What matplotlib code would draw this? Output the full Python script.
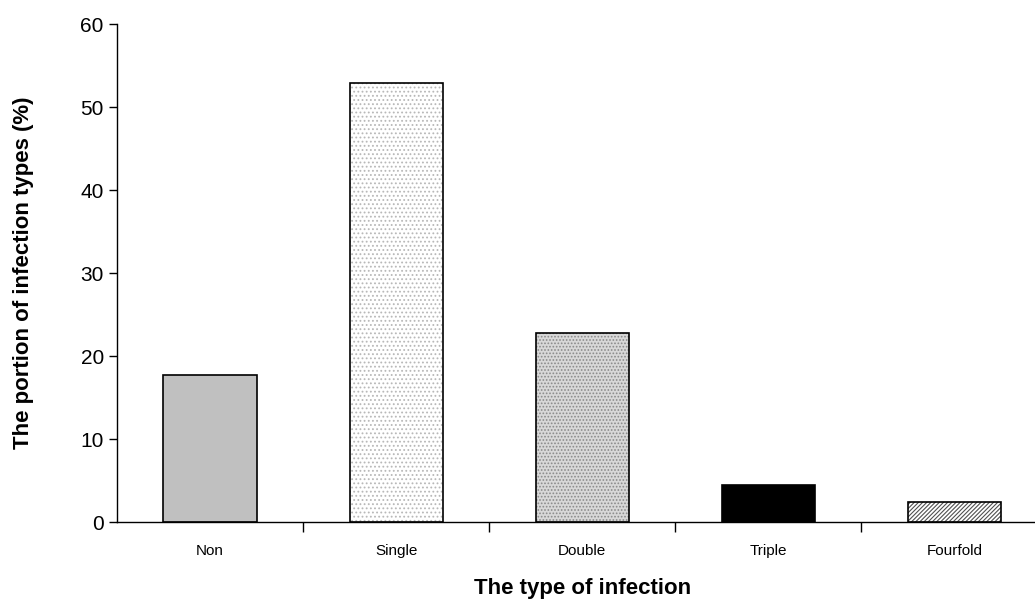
import matplotlib.pyplot as plt
import numpy as np

plt.rcParams['font.family'] = ['Liberation Sans', 'DejaVu Sans']
plt.rcParams['hatch.linewidth'] = 0.8

categories = ['Non', 'Single', 'Double', 'Triple', 'Fourfold']
portion = [17.7, 52.9, 22.8, 4.5, 2.4]

faces = ['#c0c0c0', 'white', '#d8d8d8', 'black', 'white']
hatches = [None, '....', '.....', None, '////////']
hatch_cols = ['#c0c0c0', '#b8b8b8', '#8a8a8a', 'black', '#505050']

fig = plt.figure(figsize=(10.35, 6.03), dpi=100)
ax = fig.add_axes([0.113, 0.134, 0.899, 0.826])

x = np.arange(len(categories))
for i in range(len(categories)):
    ax.bar(x[i], portion[i], width=0.5, color=faces[i], hatch=hatches[i],
           edgecolor=hatch_cols[i], linewidth=0)
ax.bar(x, portion, width=0.5, color='none', edgecolor='black', linewidth=1.2)

ax.set_xlim(-0.5, 4.5)
ax.set_ylim(0, 60)
ax.set_yticks(range(0, 61, 10))
ax.tick_params(axis='y', labelsize=15, direction='out', length=6, width=1)
ax.set_xticks(x)
ax.set_xticklabels(categories, fontsize=11)
ax.tick_params(axis='x', which='major', length=0, pad=16)
ax.set_xticks(np.arange(0.5, 4, 1), minor=True)
ax.tick_params(axis='x', which='minor', direction='out', length=7, width=1)

ax.spines['top'].set_visible(False)
ax.spines['right'].set_visible(False)
ax.spines['left'].set_linewidth(1)
ax.spines['bottom'].set_linewidth(1)

ax.set_xlabel('The type of infection', fontsize=16, fontweight='bold', labelpad=14)
ax.set_ylabel('The portion of infection types (%)', fontsize=16, fontweight='bold')
ax.yaxis.set_label_coords(-0.089, 0.5)

fig.savefig('out.png', dpi=100)
